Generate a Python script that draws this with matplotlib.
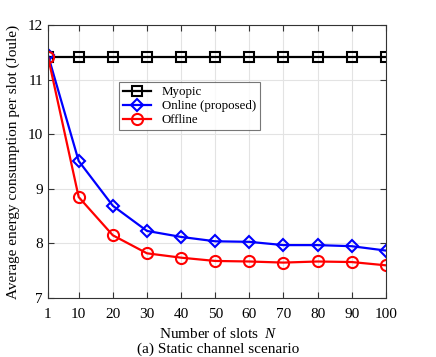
import matplotlib
matplotlib.use('Agg')
import matplotlib.pyplot as plt

plt.rcParams['font.family'] = ['Liberation Serif', 'DejaVu Serif']
plt.rcParams['mathtext.fontset'] = 'custom'
plt.rcParams['mathtext.it'] = 'Liberation Serif:italic'

slots = [1, 10, 20, 30, 40, 50, 60, 70, 80, 90, 100]
myopic = [11.42] * 11
online = [11.45, 9.51, 8.69, 8.23, 8.12, 8.04, 8.03, 7.97, 7.97, 7.95, 7.87]
offline = [11.42, 8.85, 8.15, 7.82, 7.74, 7.68, 7.67, 7.65, 7.67, 7.66, 7.60]

fig = plt.figure(figsize=(4.36, 3.57), dpi=100)
ax = fig.add_axes([0.110, 0.165, 0.775, 0.765])

ax.plot(slots, myopic, color='black', marker='s', ms=7, mfc='none', mew=1.5, lw=1.6, label='Myopic')
ax.plot(slots, online, color='blue', marker='D', ms=6.5, mfc='none', mew=1.5, lw=1.6, label='Online (proposed)')
ax.plot(slots, offline, color='red', marker='o', ms=8, mfc='none', mew=1.5, lw=1.6, label='Offline')

ax.set_xlim(1, 100)
ax.set_ylim(7, 12)
ax.set_xticks(slots)
ax.set_yticks([7, 8, 9, 10, 11, 12])
ax.grid(True, color='#e3e3e3', lw=0.8)
ax.set_axisbelow(True)
ax.tick_params(direction='in', top=True, right=True, labelsize=11, length=4, color='#333333')
ax.tick_params(axis='x', pad=7)
for s in ax.spines.values():
    s.set_color('#333333')
    s.set_linewidth(0.8)

fig.text(0.5, 1 - 333 / 357, 'Number of slots  $N$', ha='center', va='center', fontsize=11)
ax.set_ylabel('Average energy consumption per slot (Joule)', fontsize=11, labelpad=6)
fig.text(0.5, 1 - 349 / 357, '(a) Static channel scenario', ha='center', va='center', fontsize=11)

leg = ax.legend(loc='upper left', bbox_to_anchor=(0.21, 0.79), fontsize=9.3, frameon=True,
                fancybox=False, edgecolor='#555555', borderpad=0.3, handlelength=2.2,
                labelspacing=0.15, borderaxespad=0)
leg.get_frame().set_linewidth(0.8)

fig.savefig('out.png', dpi=100)
